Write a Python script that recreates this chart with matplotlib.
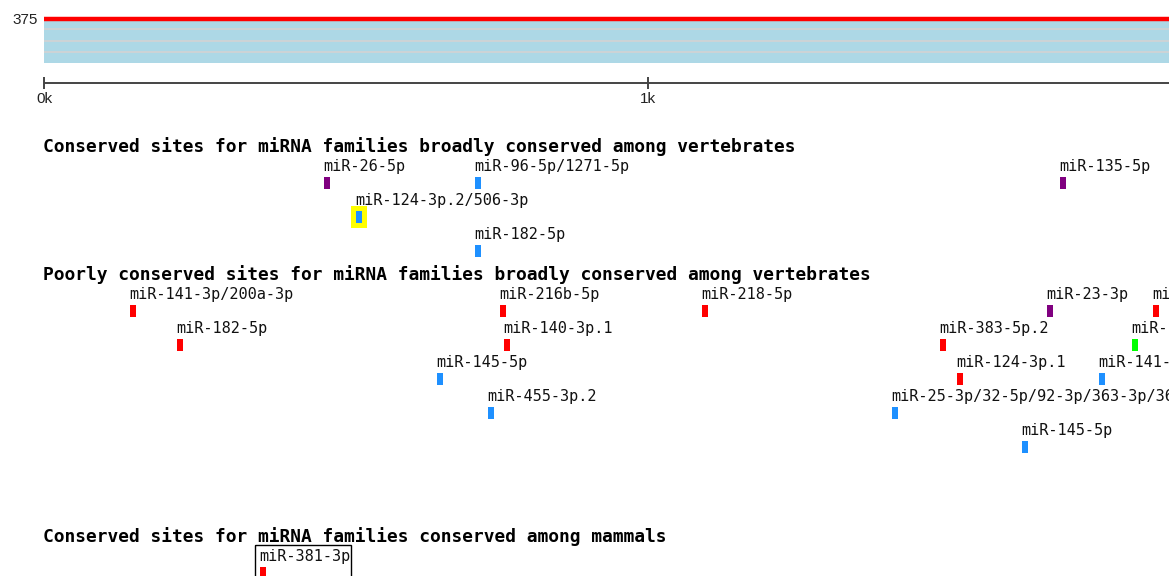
import matplotlib
matplotlib.use("Agg")
import matplotlib.pyplot as plt

# UTR length shown on the ruler (nt), ticks in k
utr_len = 1862
ruler_ticks = [0, 1000]
ruler_labels = ["0k", "1k"]
n_species_label = "375"

# section headings
sections = [
    "Conserved sites for miRNA families broadly conserved among vertebrates",
    "Poorly conserved sites for miRNA families broadly conserved among vertebrates",
    "Conserved sites for miRNA families conserved among mammals",
]
section_y = [147, 275, 537]

# sites: name, position (nt), row within section, colour
cons_names = ["miR-26-5p", "miR-96-5p/1271-5p", "miR-124-3p.2/506-3p", "miR-182-5p", "miR-135-5p"]
cons_pos = [468, 718, 521, 718, 1687]
cons_row = [0, 0, 1, 2, 0]
cons_col = ["#800080", "#1e90ff", "#1e90ff", "#1e90ff", "#800080"]

poor_names = ["miR-141-3p/200a-3p", "miR-182-5p", "miR-216b-5p", "miR-140-3p.1",
              "miR-145-5p", "miR-455-3p.2", "miR-218-5p", "miR-23-3p", "miR-204-5p",
              "miR-383-5p.2", "miR-190-5p", "miR-124-3p.1", "miR-141-3p/200a-3p",
              "miR-25-3p/32-5p/92-3p/363-3p/367-3p", "miR-145-5p"]
poor_pos = [147, 225, 760, 767, 656, 740, 1094, 1666, 1841, 1488, 1806, 1517, 1752, 1409, 1624]
poor_row = [0, 1, 0, 1, 2, 3, 0, 0, 0, 1, 1, 2, 2, 3, 4]
poor_col = ["#ff0000", "#ff0000", "#ff0000", "#ff0000", "#1e90ff", "#1e90ff", "#ff0000",
            "#800080", "#ff0000", "#ff0000", "#00ff00", "#ff0000", "#1e90ff", "#1e90ff", "#1e90ff"]

mamm_names = ["miR-381-3p"]
mamm_pos = [363]
mamm_row = [0]
mamm_col = ["#ff0000"]

highlighted = "miR-124-3p.2/506-3p"
boxed = "miR-381-3p"

W, H = 1169, 576
px_per_nt = 0.604
x0 = -44 / px_per_nt
x1 = (W - 44) / px_per_nt

fig = plt.figure(figsize=(W / 100, H / 100), dpi=100)
ax = fig.add_axes([0, 0, 1, 1])
ax.set_xlim(x0, x1)
ax.set_ylim(H, 0)
ax.axis("off")

mono = "DejaVu Sans Mono"
sans = "Liberation Sans"

# alignment band
ax.fill_between([0, x1], 21, 63, color="#add8e6", lw=0)
ax.hlines([29, 41, 52], 0, x1, color="#d3d3d3", lw=1.2)
ax.hlines(19, 0, x1, color="#ff0000", lw=3.2)
ax.text(-6 / px_per_nt, 20, n_species_label, ha="right", va="center",
        family=sans, fontsize=11, color="#222222")

# ruler
ax.hlines(83, 0, x1, color="#444444", lw=1.4)
ax.vlines(ruler_ticks, 77, 89, color="#444444", lw=1.4)
for t, lab in zip(ruler_ticks, ruler_labels):
    ax.text(t, 99, lab, ha="center", va="center", family=sans, fontsize=11, color="#222222")

mark_w = 10
row_step = 34


def draw_section(top, names, pos, rows, cols):
    for n, p, r, c in zip(names, pos, rows, cols):
        ly = top + 19 + row_step * r
        my = ly + 11
        if n == highlighted:
            ax.bar(p, 22, width=26, bottom=my - 5, color="#ffff00", align="center", zorder=1)
        if n == boxed:
            ax.bar(p + 66, 40, width=160, bottom=my - 22, fill=False, edgecolor="black",
                   lw=1, align="center", zorder=3)
        ax.bar(p, 12, width=mark_w, bottom=my, color=c, align="center", zorder=2)
        ax.text(p - 6, ly, n, ha="left", va="center", family=mono, fontsize=11,
                color="#111111", zorder=4)


for s, y in zip(sections, section_y):
    ax.text(-1 / px_per_nt, y, s, ha="left", va="center", family=mono,
            fontsize=12.9, fontweight="bold", color="black")

draw_section(section_y[0], cons_names, cons_pos, cons_row, cons_col)
draw_section(section_y[1], poor_names, poor_pos, poor_row, poor_col)
draw_section(section_y[2], mamm_names, mamm_pos, mamm_row, mamm_col)

fig.savefig("out.png", dpi=100)
